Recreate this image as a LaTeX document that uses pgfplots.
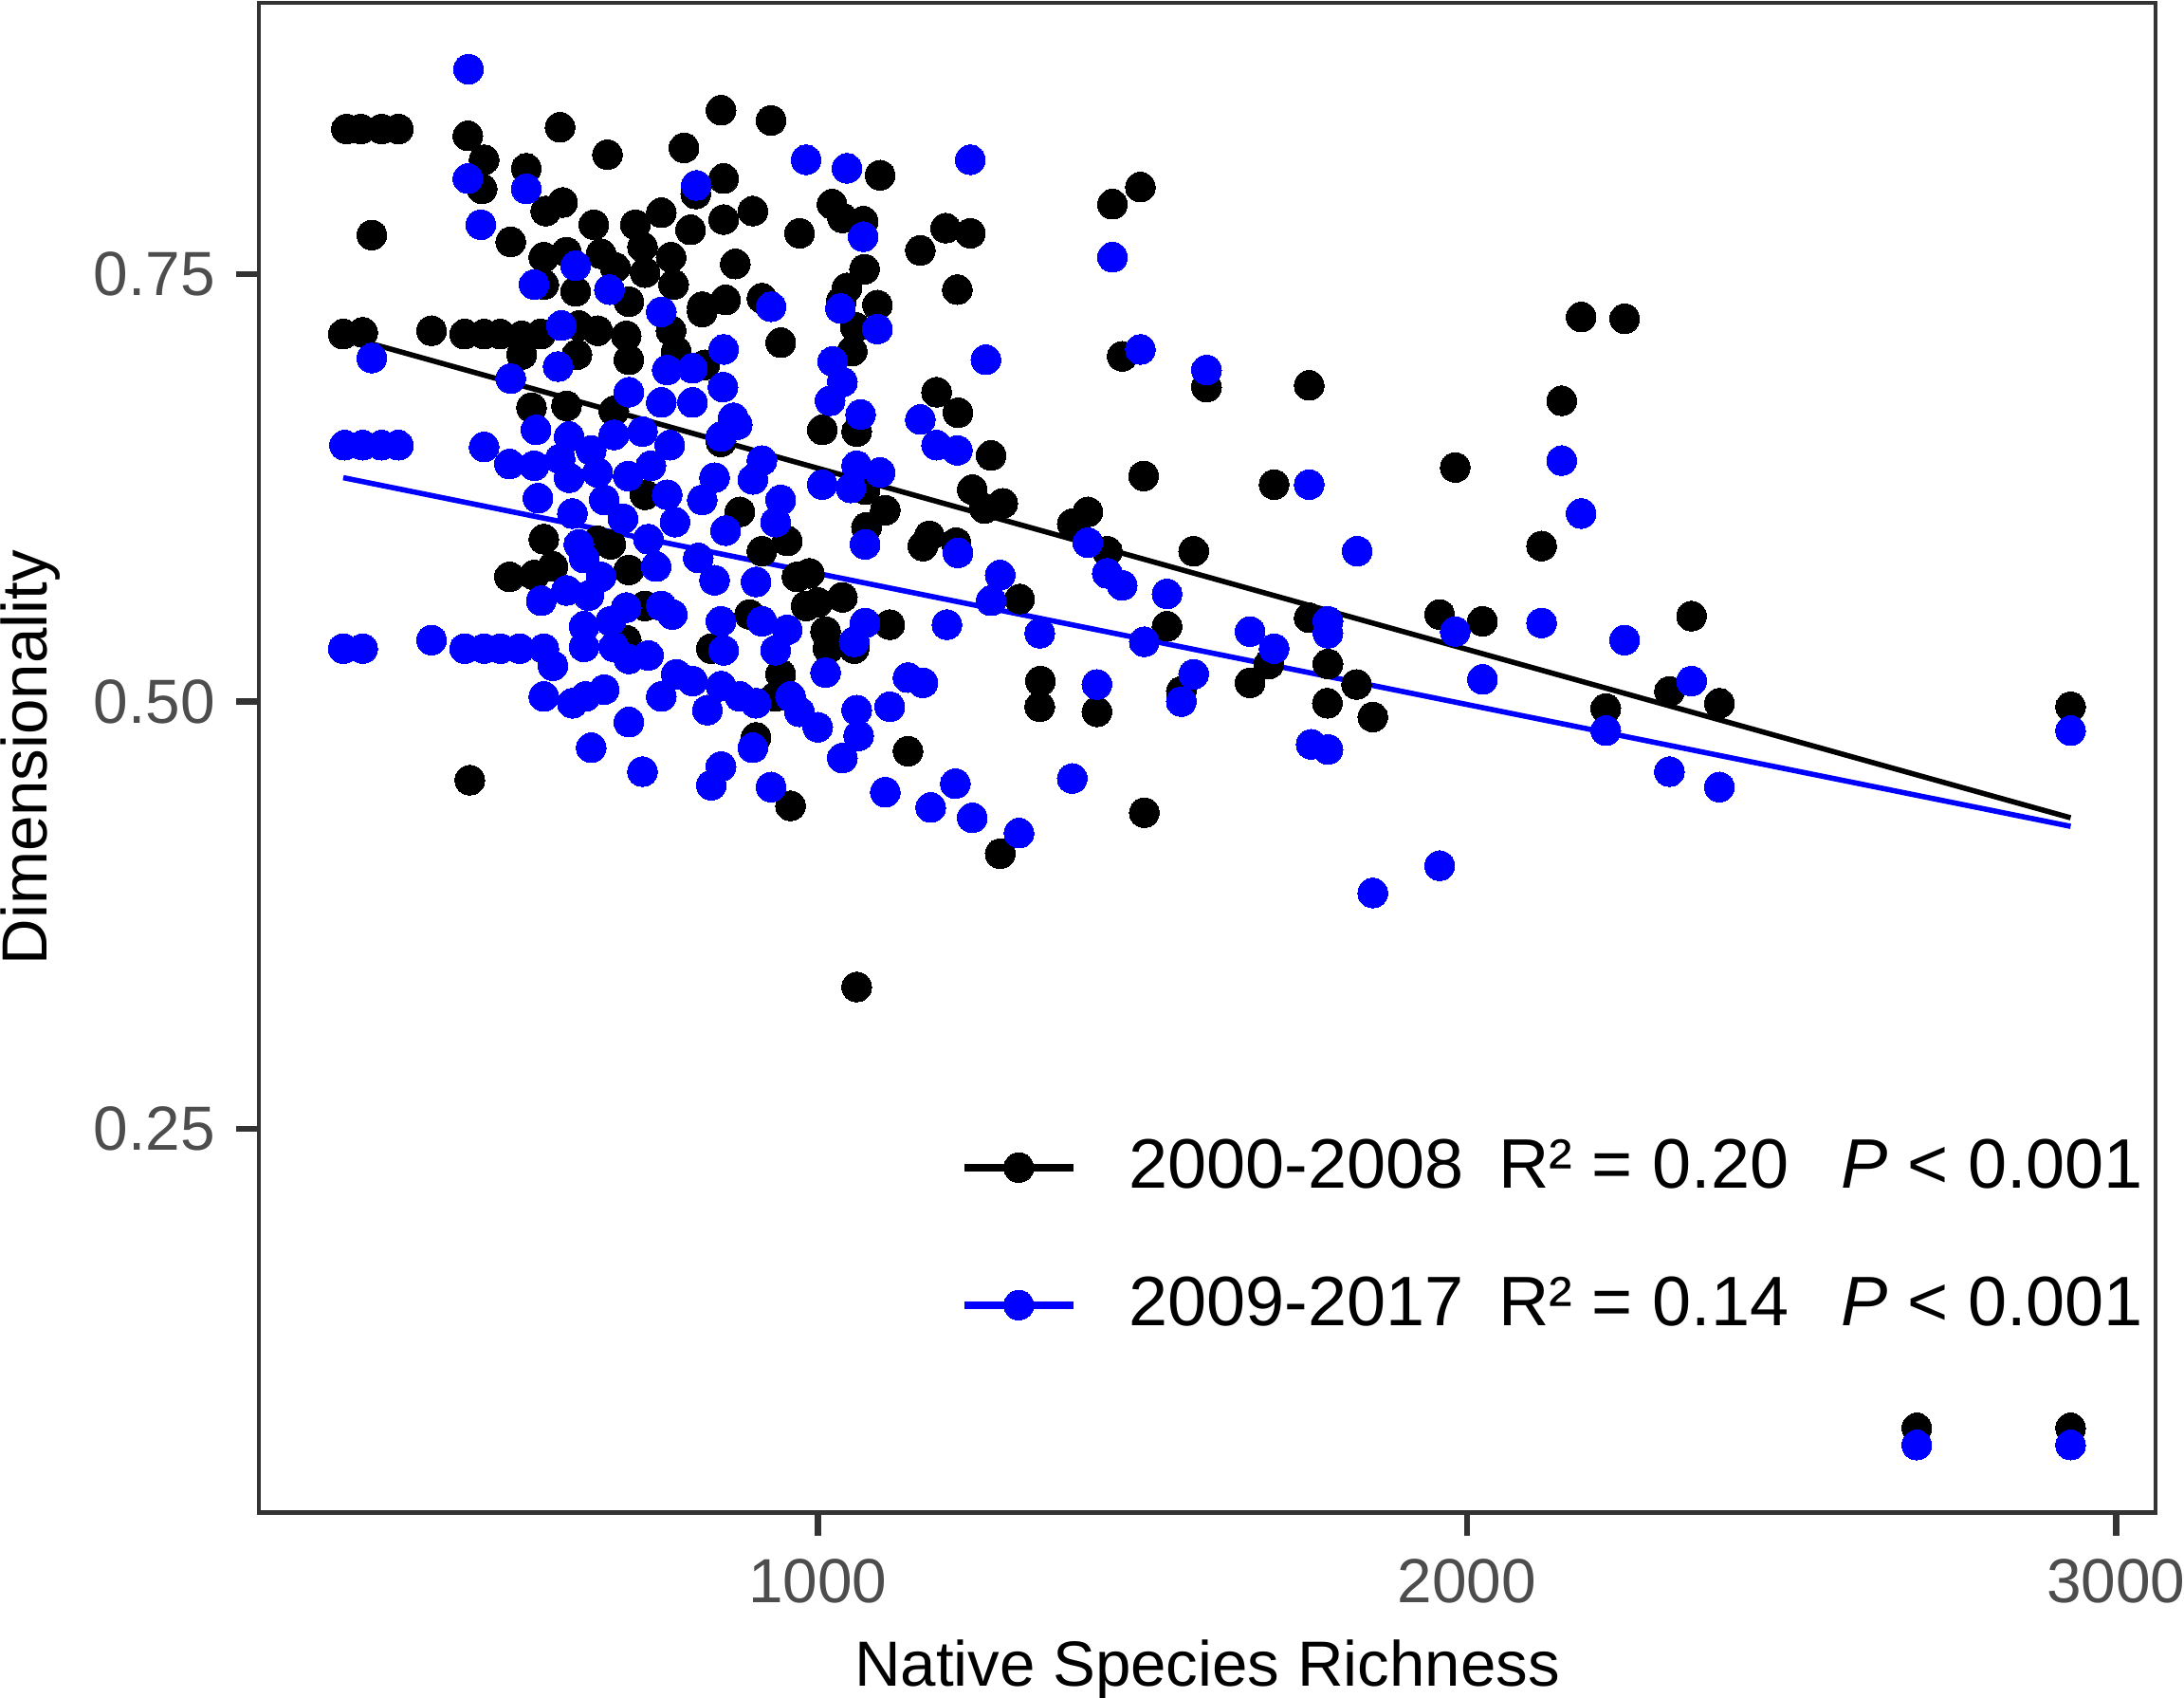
\documentclass[border=0pt]{standalone}
\usepackage{fontspec}
\setmainfont{Liberation Sans}
\usepackage{pgfplots}
\usepackage{pgfplotstable}
\pgfplotsset{compat=1.18}
\definecolor{tickgrey}{HTML}{4D4D4D}
\definecolor{framegrey}{HTML}{333333}
\definecolor{ptblue}{HTML}{0000FF}

\pgfplotstableread{
x y
274 0.835
296 0.835
328 0.835
354 0.835
461 0.831
486 0.817
483 0.800
313 0.773
603 0.836
676 0.820
551 0.812
581 0.787
607 0.792
527 0.769
655 0.779
851 0.846
928 0.840
794 0.824
855 0.806
812 0.797
972 0.774
759 0.786
719 0.779
804 0.776
855 0.782
900 0.787
730 0.766
774 0.760
873 0.756
578 0.760
613 0.763
666 0.762
688 0.754
627 0.740
578 0.744
734 0.751
778 0.744
709 0.734
914 0.736
822 0.731
858 0.735
943 0.710
269 0.715
299 0.716
405 0.717
456 0.715
486 0.715
511 0.715
544 0.714
573 0.715
632 0.720
661 0.717
705 0.714
544 0.703
629 0.703
709 0.700
774 0.717
822 0.728
826 0.697
782 0.705
559 0.672
613 0.673
686 0.670
851 0.652
734 0.621
880 0.611
578 0.595
953 0.594
914 0.588
681 0.592
661 0.594
525 0.573
563 0.574
592 0.579
709 0.577
968 0.573
734 0.556
895 0.551
982 0.556
705 0.536
836 0.531
943 0.516
935 0.503
905 0.479
958 0.439
464 0.454
1096 0.808
1022 0.791
1038 0.783
1070 0.781
1158 0.764
1197 0.777
1235 0.774
1215 0.741
1072 0.753
1045 0.742
1092 0.732
1036 0.734
1058 0.719
1053 0.705
1007 0.659
1060 0.658
1183 0.681
1216 0.669
1267 0.644
1454 0.791
1497 0.801
1469 0.702
1599 0.684
1502 0.632
1703 0.627
1073 0.624
1238 0.624
1285 0.616
1257 0.613
1104 0.612
1075 0.602
1172 0.597
1162 0.591
1213 0.593
1416 0.611
1392 0.604
1446 0.588
1579 0.588
1538 0.544
1311 0.560
1111 0.545
1012 0.541
1016 0.531
1038 0.561
1000 0.558
987 0.575
1056 0.531
1695 0.522
1666 0.511
1560 0.506
1343 0.512
1342 0.497
1430 0.494
1139 0.471
1281 0.411
1503 0.435
1060 0.333
2176 0.725
2243 0.724
1757 0.685
2146 0.676
1982 0.637
2115 0.591
1757 0.549
1786 0.522
1830 0.510
1785 0.499
1855 0.491
1958 0.551
2024 0.547
2346 0.550
2312 0.506
2389 0.499
2214 0.496
2930 0.497
2693 0.075
2930 0.075
}\blackdata

\pgfplotstableread{
x y
461 0.806
462 0.870
481 0.779
551 0.800
813 0.802
982 0.817
627 0.755
563 0.744
679 0.741
759 0.728
928 0.731
605 0.720
313 0.701
600 0.696
527 0.689
768 0.694
807 0.695
855 0.706
854 0.684
709 0.681
759 0.675
807 0.675
870 0.666
271 0.650
299 0.650
328 0.650
354 0.650
486 0.649
566 0.659
617 0.655
525 0.639
563 0.638
603 0.642
651 0.647
686 0.656
730 0.658
772 0.650
743 0.638
708 0.632
661 0.634
617 0.631
569 0.619
622 0.610
671 0.618
700 0.607
768 0.621
822 0.618
780 0.605
841 0.631
876 0.662
851 0.655
914 0.641
900 0.630
943 0.618
935 0.605
858 0.600
632 0.592
739 0.595
816 0.584
640 0.584
751 0.579
841 0.571
905 0.570
666 0.573
613 0.565
574 0.559
647 0.562
705 0.555
759 0.556
776 0.551
851 0.547
914 0.547
953 0.542
640 0.544
681 0.547
855 0.530
935 0.530
269 0.531
299 0.531
405 0.536
456 0.531
486 0.531
511 0.531
541 0.531
578 0.531
592 0.521
640 0.532
686 0.532
739 0.527
709 0.525
782 0.516
807 0.512
759 0.503
578 0.503
622 0.499
671 0.507
642 0.503
830 0.495
851 0.509
880 0.503
905 0.499
958 0.503
972 0.494
709 0.488
651 0.473
730 0.459
851 0.462
836 0.451
900 0.473
928 0.450
1045 0.812
1235 0.817
1070 0.772
1035 0.730
1092 0.718
1023 0.699
1038 0.687
1019 0.676
1066 0.668
1259 0.700
1158 0.665
1183 0.650
1215 0.647
1454 0.760
1497 0.706
1599 0.694
1007 0.627
1051 0.625
1060 0.638
1096 0.634
1073 0.592
1216 0.587
1416 0.593
1446 0.575
1469 0.568
1538 0.563
1281 0.574
1267 0.559
1199 0.545
1073 0.546
1056 0.535
1012 0.517
1342 0.540
1503 0.535
1666 0.541
1703 0.531
1579 0.516
1560 0.500
1430 0.510
1139 0.514
1162 0.511
1111 0.497
1060 0.495
1063 0.480
1038 0.467
1000 0.485
1104 0.447
1212 0.452
1174 0.438
1238 0.432
1310 0.423
1392 0.455
1757 0.627
2146 0.641
2176 0.610
1831 0.588
1786 0.547
1786 0.540
1982 0.541
2115 0.546
2024 0.513
2243 0.536
2346 0.512
1760 0.475
1786 0.472
2214 0.483
2312 0.459
2389 0.450
1958 0.404
1855 0.388
2930 0.483
2693 0.065
2930 0.065
}\bluedata

\begin{document}
\begin{tikzpicture}
\begin{axis}[
  name=ax,
  scale only axis,
  width=13.90cm, height=11.06cm,
  xmin=139, xmax=3061, ymin=0.0255, ymax=0.9088,
  axis line style={framegrey, line width=0.9pt},
  xtick={1000,2000,3000},
  ytick={0.25,0.5,0.75},
  /pgf/number format/assume math mode=true,
  xticklabel style={/pgf/number format/1000 sep={}, anchor=north, inner sep=0pt, yshift=-0.167cm},
  yticklabel style={/pgf/number format/.cd, fixed, fixed zerofill, precision=2, /tikz/.cd, anchor=east, inner sep=0pt, xshift=-0.146cm},
  tick align=outside, tick pos=left,
  major tick length=0.167cm,
  tick style={framegrey, line width=1.3pt},
  ticklabel style={font=\fontsize{13}{15}\selectfont, text=tickgrey},
  xlabel={Native Species Richness},
  ylabel={Dimensionality},
  label style={font=\fontsize{13.3}{16}\selectfont},
  xlabel style={at={(axis description cs:0.5,0)}, anchor=base, yshift=-1.27cm},
  ylabel style={at={(axis description cs:0,0.5)}, anchor=base, yshift=1.55cm},
  legend image code/.code={\draw[mark repeat=2, mark phase=2, #1] plot coordinates {(0cm,0cm) (0.4cm,0cm) (0.8cm,0cm)};},
  legend style={draw=none, fill=none, at={(rel axis cs:0.999,0.183)}, anchor=east, inner sep=0pt,
     row sep=0.456cm, font=\fontsize{14.6}{17}\selectfont,
     /tikz/every odd column/.append style={column sep=0.31cm}},
  legend cell align=left,
]
\addplot[only marks, black, mark=*, mark size=3.1pt, mark options={draw=black, fill=black, line width=0pt}, forget plot] table[x=x, y=y] {\blackdata};
\addplot[only marks, ptblue, mark=*, mark size=3.1pt, mark options={draw=ptblue, fill=ptblue, line width=0pt}, forget plot] table[x=x, y=y] {\bluedata};
\addplot[black, line width=1.1pt, forget plot] coordinates {(269,0.714) (2930,0.432)};
\addplot[ptblue, line width=1.1pt, forget plot] coordinates {(269,0.631) (2930,0.427)};
\addlegendimage{black, line width=1.6pt, mark=*, mark size=3.1pt, mark options={draw=black, fill=black, line width=0pt}}
\addlegendentry{2000-2008\hspace{0.5em}R² = 0.20\hspace{0.75em}\textit{P} < 0.001}
\addlegendimage{ptblue, line width=1.6pt, mark=*, mark size=3.1pt, mark options={draw=ptblue, fill=ptblue, line width=0pt}}
\addlegendentry{2009-2017\hspace{0.5em}R² = 0.14\hspace{0.75em}\textit{P} < 0.001}
\end{axis}
\pgfresetboundingbox
\path[use as bounding box] ([xshift=-1.897cm, yshift=-1.355cm]ax.south west) rectangle ([xshift=0.208cm, yshift=0.021cm]ax.north east);
\end{tikzpicture}
\end{document}
